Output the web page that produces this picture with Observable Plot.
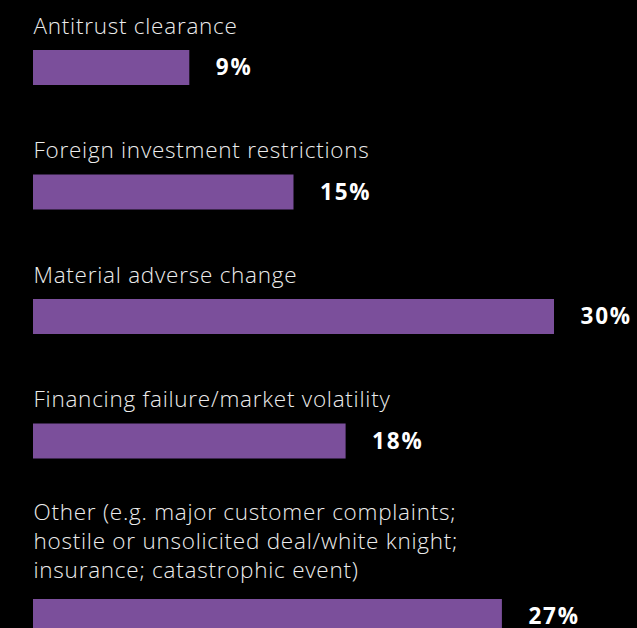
<!DOCTYPE html>
<html>
<head>
<meta charset="utf-8">
<script src="https://cdn.jsdelivr.net/npm/d3@7"></script>
<script src="https://cdn.jsdelivr.net/npm/@observablehq/plot@0.6"></script>
<style>
  html, body { margin: 0; padding: 0; background: #000; }
  #chart svg { display: block; }
  g.cat-label text { letter-spacing: 0.75px; }
  g.pct-label text { letter-spacing: 1.8px; }
</style>
</head>
<body>
<div id="chart"></div>
<script>
const categories = [
  "Antitrust clearance",
  "Foreign investment restrictions",
  "Material adverse change",
  "Financing failure/market volatility",
  "Other (e.g. major customer complaints;\nhostile or unsolicited deal/white knight;\ninsurance; catastrophic event)"
];
const values = [9, 15, 30, 18, 27];
const valueLabels = ["9%", "15%", "30%", "18%", "27%"];

// layout (pixels)
const W = 637, H = 628;
const firstBarTop = 50, groupStep = 124.5, extraLineStep = 25.5, barH = 35;

const rows = [];
let barTop = firstBarTop;
categories.forEach((c, i) => {
  const lines = c.split("\n").length;
  if (i > 0) barTop += groupStep + (lines - 1) * extraLineStep;
  rows.push({category: c, lines, value: values[i], label: valueLabels[i], y1: barTop, y2: barTop + barH});
});

const font = "'Open Sans', Lato, sans-serif";

const chart = Plot.plot({
  width: W,
  height: H,
  marginLeft: 33,
  marginRight: 83,
  marginTop: 0,
  marginBottom: 0,
  style: {background: "#000", color: "#fff", fontFamily: font},
  x: {domain: [0, 30], axis: null},
  y: {domain: [0, H], range: [0, H], axis: null},
  marks: [
    Plot.rect(rows, {x1: 0, x2: "value", y1: "y1", y2: "y2", fill: "#7b4f9b"}),
    Plot.text(rows, {
      x: 0, y: d => d.y1 - 17 - (d.lines - 1) * 2.5, text: "category",
      textAnchor: "start", lineAnchor: "bottom", lineHeight: 1.27,
      fontSize: 22.5, fontWeight: 300, fill: "#ececec", fontFamily: font,
      className: "cat-label"
    }),
    Plot.text(rows, {
      x: "value", y: d => (d.y1 + d.y2) / 2, text: "label",
      textAnchor: "start", lineAnchor: "middle", dx: 26,
      fontSize: 22.5, fontWeight: "bold", fill: "#fff", fontFamily: font,
      className: "pct-label"
    })
  ]
});
document.getElementById("chart").appendChild(chart);
</script>
</body>
</html>
